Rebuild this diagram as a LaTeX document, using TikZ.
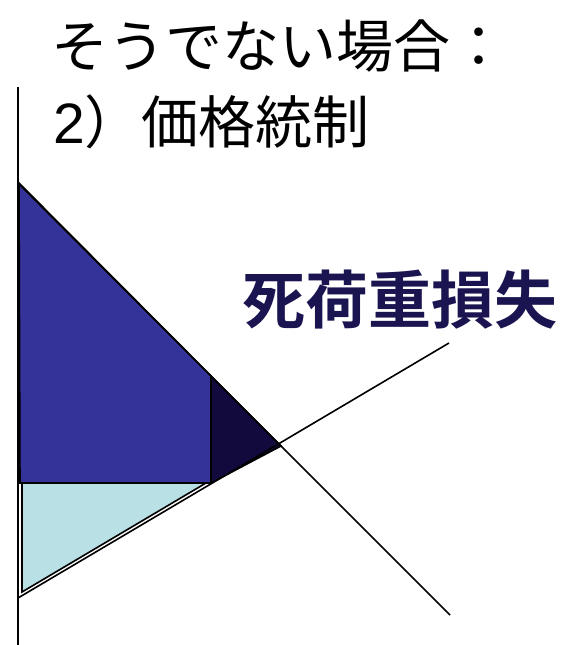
\documentclass[tikz,border=0pt]{standalone}
\usepackage{fontspec}
\setmainfont{Noto Sans CJK JP}[BoldFont={* Bold}]
\newfontfamily\latinfont{Liberation Sans}
\usepackage{tikz}
\tikzset{>=latex}
\definecolor{surplusblue}{RGB}{51,51,153}
\definecolor{lossnavy}{RGB}{18,10,60}
\definecolor{sellercyan}{RGB}{185,224,228}
\definecolor{labelnavy}{RGB}{26,20,80}

\begin{document}
\begin{tikzpicture}[x=1pt,y=-1pt]
\useasboundingbox (0,0) rectangle (566,645);
% axis and curves
\coordinate (top) at (18,87);
\coordinate (bottom) at (18,645);
\coordinate (d0) at (18,183);
\coordinate (d1) at (450,615);
\coordinate (s0) at (18,598);
\coordinate (s1) at (449,343);
\coordinate (eq) at (281,446);
\coordinate (ceilS) at (211,483);
\coordinate (ceilD) at (211,376);
% areas
\filldraw[fill=surplusblue, line width=1.6pt, line join=miter]
    (19,183) -- (ceilD) -- (ceilS) -- (20,483) -- cycle;
\filldraw[fill=lossnavy, line width=1.6pt]
    (ceilD) -- (eq) -- (ceilS) -- cycle;
\filldraw[fill=sellercyan, line width=1.6pt]
    (22,483) -- (206,483) -- (22,592) -- cycle;
\draw[line width=1.6pt] (d0) -- (d1);
\draw[line width=1.6pt] (s0) -- (s1);
\draw[line width=2pt] (top) -- (bottom);
% texts
\node[anchor=west, font=\fontsize{57}{62}\selectfont, inner sep=0pt] (title) at (51,46) {そうでない場合：};
\node[anchor=west, font=\fontsize{57}{62}\selectfont, inner sep=0pt] (control) at (53,122) {{\latinfont 2}）価格統制};
\node[font=\bfseries\fontsize{63}{68}\selectfont, text=labelnavy, inner sep=0pt] (loss) at (400,300) {死荷重損失};
\end{tikzpicture}
\end{document}
